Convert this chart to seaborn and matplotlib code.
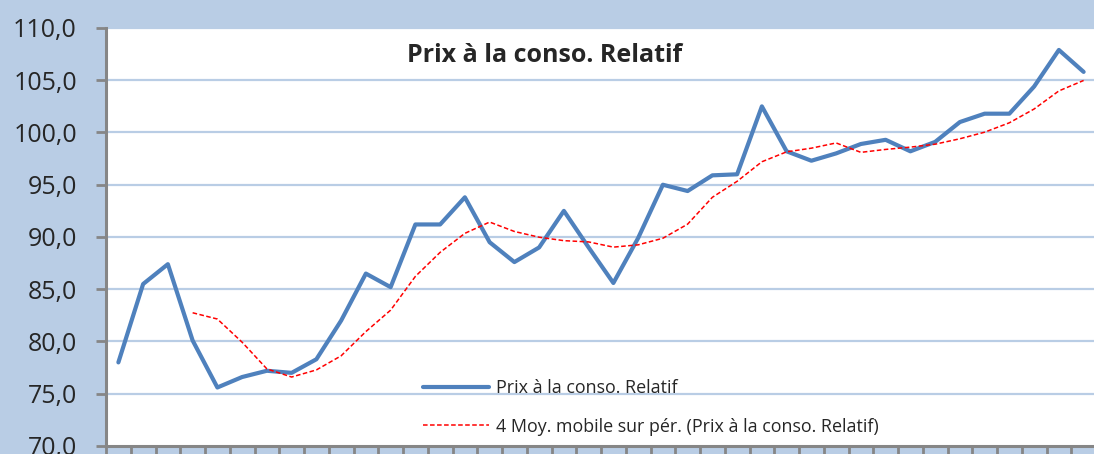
import matplotlib
matplotlib.use("Agg")
import matplotlib.pyplot as plt
import seaborn as sns
import numpy as np
import pandas as pd

# values (40 periods)
periods = list(range(40))
prix_relatif = [78.0, 85.5, 87.4, 80.1, 75.6, 76.6, 77.2, 77.0, 78.3, 82.0,
                86.5, 85.2, 91.2, 91.2, 93.8, 89.5, 87.6, 89.0, 92.5, 89.0,
                85.6, 89.9, 95.0, 94.4, 95.9, 96.0, 102.5, 98.2, 97.3, 98.0,
                98.9, 99.3, 98.2, 99.1, 101.0, 101.8, 101.8, 104.4, 107.9, 105.8]
moy_mobile_4 = [np.nan, np.nan, np.nan, 82.75, 82.15, 79.93, 77.38, 76.6, 77.28, 78.63,
                80.95, 83.0, 86.23, 88.53, 90.35, 91.43, 90.53, 89.98, 89.65, 89.53,
                89.03, 89.25, 89.88, 91.23, 93.8, 95.33, 97.2, 98.15, 98.5, 99.0,
                98.1, 98.38, 98.6, 98.88, 99.4, 100.03, 100.93, 102.25, 103.98, 104.98]
y_ticks = [70, 75, 80, 85, 90, 95, 100, 105, 110]

label_prix = "Prix à la conso. Relatif"
label_mm = "4 Moy. mobile sur pér. (Prix à la conso. Relatif)"

df = pd.DataFrame({"periode": periods, "prix": prix_relatif, "mm": moy_mobile_4})

sns.set_style("white")
plt.rcParams["font.family"] = ["Open Sans", "DejaVu Sans"]

bg = "#B9CDE5"
axis_gray = "#868686"

fig = plt.figure(figsize=(10.94, 4.54), dpi=100, facecolor=bg)
ax = fig.add_axes([106 / 1094, 8 / 454, 990 / 1094, 418 / 454])
ax.set_facecolor("white")

for t in y_ticks[1:]:
    ax.axhline(t, color=bg, lw=1.6, zorder=0)

sns.lineplot(data=df, x="periode", y="prix", ax=ax, color="#4F81BD", lw=3.0,
             label=label_prix, zorder=3)
sns.lineplot(data=df, x="periode", y="mm", ax=ax, color="#FF0000", lw=1.1,
             linestyle=(0, (3, 1.6)), label=label_mm, zorder=4)

ax.set_xlim(-0.5, 39.5)
ax.set_ylim(70, 110)
ax.set_yticks(y_ticks)
ax.set_yticklabels([f"{v:.1f}".replace(".", ",") for v in y_ticks], fontsize=18)
ax.set_xticks(np.arange(-0.5, 40, 1))
ax.set_xticklabels([])
ax.set_xlabel("")
ax.set_ylabel("")
ax.tick_params(axis="y", length=7, width=2, color=axis_gray, pad=14, left=True)
ax.tick_params(axis="x", length=7, width=2, color=axis_gray, bottom=True, direction="out")

for s in ["top", "right"]:
    ax.spines[s].set_visible(False)
for s in ["left", "bottom"]:
    ax.spines[s].set_color(axis_gray)
    ax.spines[s].set_linewidth(2.2)

leg = ax.legend(loc="center left", bbox_to_anchor=(423 / 1094, 46.5 / 454),
                bbox_transform=fig.transFigure, frameon=False, fontsize=12.9,
                handlelength=3.7, handletextpad=0.35, labelspacing=1.12,
                borderpad=0, borderaxespad=0)

fig.text(545 / 1094, 399 / 454, label_prix, ha="center", va="center",
         fontsize=18, fontweight="bold")

fig.savefig("out.png", dpi=100, facecolor=bg)
